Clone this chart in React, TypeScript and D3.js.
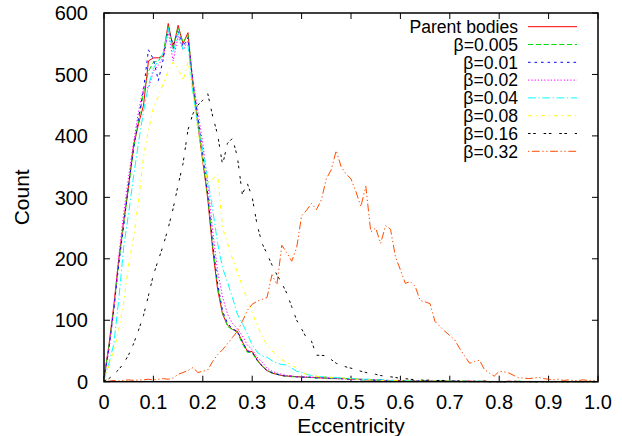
import React from "react";
import * as d3 from "d3";

// bin centres (eccentricity), 0.00 .. 1.00 in steps of 0.01
const BINS: number[] = d3.range(0, 101).map((i) => i / 100);

const X_TICKS = [0, 0.1, 0.2, 0.3, 0.4, 0.5, 0.6, 0.7, 0.8, 0.9, 1.0];
const X_TICK_LABELS = ["0", "0.1", "0.2", "0.3", "0.4", "0.5", "0.6", "0.7", "0.8", "0.9", "1.0"];
const Y_TICKS = [0, 100, 200, 300, 400, 500, 600];

const SERIES_NAMES = ["Parent bodies", "β=0.005", "β=0.01", "β=0.02", "β=0.04", "β=0.08", "β=0.16", "β=0.32"];

const PARENT = [
  5, 60, 125, 200, 262, 320, 385, 420, 450, 522,
  527, 527, 530, 583, 542, 580, 550, 568, 480, 418,
  358, 298, 215, 150, 110, 92, 85, 82, 65, 50,
  49, 36, 25, 18, 14, 12, 10, 9, 9, 8,
  8, 7, 7, 7, 6, 6, 6, 5, 5, 5,
  4, 4, 4, 3, 3, 3, 3, 2, 2, 2,
  2, 2, 2, 1, 1, 2, 1, 1, 1, 1,
  1, 1, 0, 1, 1, 0, 0, 1, 0, 0,
  0, 0, 1, 0, 0, 0, 0, 0, 0, 0,
  0, 0, 0, 0, 0, 0, 0, 0, 0, 0, 0,
];
const B0005 = [
  4, 58, 120, 195, 258, 318, 380, 425, 470, 505,
  520, 522, 535, 578, 545, 577, 552, 565, 485, 425,
  362, 300, 222, 155, 112, 90, 85, 80, 62, 48,
  47, 34, 26, 19, 14, 12, 10, 9, 8, 8,
  8, 7, 7, 6, 6, 6, 5, 5, 5, 5,
  4, 4, 3, 3, 3, 3, 2, 2, 2, 2,
  2, 1, 2, 1, 1, 1, 1, 1, 1, 1,
  1, 0, 1, 1, 0, 0, 1, 0, 0, 0,
  0, 0, 0, 0, 1, 0, 0, 0, 0, 0,
  0, 0, 0, 0, 0, 0, 0, 0, 0, 0, 0,
];
const B001 = [
  5, 55, 118, 192, 255, 322, 380, 430, 475, 540,
  525, 490, 525, 575, 548, 570, 545, 560, 488, 430,
  370, 305, 225, 160, 115, 95, 86, 82, 66, 50,
  48, 35, 26, 18, 15, 12, 10, 9, 9, 8,
  7, 8, 7, 6, 7, 6, 5, 6, 5, 4,
  4, 4, 3, 4, 3, 2, 3, 2, 2, 2,
  1, 2, 1, 1, 2, 1, 1, 0, 1, 1,
  0, 1, 1, 0, 0, 1, 0, 0, 0, 0,
  0, 0, 0, 0, 0, 0, 0, 0, 0, 0,
  0, 0, 0, 0, 0, 0, 0, 0, 0, 0, 0,
];
const B002 = [
  4, 50, 120, 205, 275, 335, 390, 440, 480, 478,
  505, 515, 528, 570, 522, 562, 540, 555, 492, 440,
  388, 322, 245, 180, 138, 110, 95, 86, 75, 60,
  52, 40, 32, 22, 17, 14, 12, 10, 9, 8,
  8, 8, 7, 7, 6, 6, 6, 5, 5, 5,
  4, 4, 4, 3, 3, 3, 2, 2, 2, 2,
  2, 2, 1, 1, 1, 1, 1, 1, 1, 0,
  1, 1, 0, 0, 1, 0, 0, 0, 0, 0,
  0, 0, 0, 0, 0, 0, 0, 0, 0, 0,
  0, 0, 0, 0, 0, 0, 0, 0, 0, 0, 0,
];
const B004 = [
  3, 30, 62, 135, 220, 275, 335, 390, 440, 482,
  510, 522, 535, 575, 535, 568, 540, 548, 470, 418,
  375, 330, 280, 225, 185, 162, 137, 110, 95, 78,
  60, 48, 42, 40, 34, 30, 28, 27, 22, 17,
  15, 12, 10, 9, 8, 8, 7, 7, 6, 6,
  5, 5, 4, 4, 4, 3, 3, 3, 2, 2,
  2, 2, 2, 1, 1, 1, 1, 1, 1, 1,
  1, 1, 0, 1, 0, 0, 1, 0, 0, 0,
  0, 0, 0, 0, 0, 0, 0, 0, 0, 0,
  0, 0, 0, 0, 0, 0, 0, 0, 0, 0, 0,
];
const B008 = [
  2, 25, 50, 85, 130, 190, 235, 295, 365, 410,
  445, 465, 485, 505, 520, 510, 490, 520, 470, 410,
  360, 325, 330, 338, 250, 225, 200, 178, 156, 134,
  112, 92, 74, 60, 50, 42, 36, 31, 27, 22,
  15, 12, 11, 9, 8, 8, 7, 6, 7, 5,
  5, 4, 4, 3, 3, 3, 2, 2, 2, 2,
  2, 2, 1, 1, 2, 1, 1, 1, 1, 1,
  1, 0, 1, 1, 0, 0, 0, 1, 0, 0,
  0, 0, 0, 0, 0, 0, 0, 0, 0, 0,
  0, 0, 0, 0, 0, 0, 0, 0, 0, 0, 0,
];
const B016 = [
  1, 5, 12, 20, 30, 44, 62, 84, 108, 140,
  174, 198, 222, 250, 282, 320, 355, 410, 436, 450,
  458, 469, 432, 402, 353, 388, 396, 366, 305, 323,
  300, 255, 225, 208, 190, 174, 160, 144, 122, 100,
  86, 71, 66, 43, 43, 42, 36, 30, 27, 24,
  22, 20, 17, 15, 13, 12, 10, 9, 8, 7,
  5, 5, 4, 3, 3, 2, 3, 2, 2, 2,
  1, 1, 1, 1, 0, 1, 0, 1, 0, 0,
  0, 0, 0, 1, 0, 0, 0, 0, 0, 0,
  0, 0, 0, 0, 0, 0, 0, 0, 0, 0, 0,
];
const B032 = [
  0, 1, 2, 1, 2, 3, 2, 3, 3, 4,
  3, 4, 5, 4, 6, 12, 15, 18, 23, 15,
  17, 19, 33, 44, 52, 62, 72, 82, 98, 116,
  126, 131, 134, 137, 174, 158, 222, 210, 196, 218,
  270, 279, 290, 280, 296, 330, 345, 376, 350, 338,
  330, 309, 285, 318, 244, 250, 225, 254, 248, 203,
  182, 160, 163, 155, 132, 130, 127, 98, 90, 82,
  75, 68, 54, 42, 30, 33, 35, 20, 14, 9,
  17, 16, 14, 10, 6, 6, 5, 6, 7, 5,
  4, 3, 4, 2, 3, 2, 2, 3, 2, 2, 1,
];

const SERIES_VALUES = [PARENT, B0005, B001, B002, B004, B008, B016, B032];
const COLORS = ["#ff0000", "#00e000", "#0000ff", "#ff00ff", "#00ffff", "#ffff00", "#000000", "#ff4d00"];
const DL = 1.3;
const DASHES: (number[] | null)[] = [
  null,
  [4, 2],
  [2, 3],
  [1, 1.5],
  [6, 2, 1, 2],
  [3, 3, 1, 3],
  [2, 2, 2, 6],
  [1, 2, 6, 2, 1, 2],
];

const W = 622;
const H = 436;
const LEFT = 104;
const RIGHT = 598;
const TOP = 13;
const BOTTOM = 381.7;
const FONT = "'Liberation Sans', Arial, Helvetica, sans-serif";
const FS_TICK = 20;
const FS_TITLE = 21;
const FS_LEGEND = 17.6;

export default function App() {
  const x = d3.scaleLinear().domain([0, 1]).range([LEFT, RIGHT]);
  const y = d3.scaleLinear().domain([0, 600]).range([BOTTOM, TOP]);
  const line = d3
    .line<number>()
    .x((_d, i) => x(BINS[i]))
    .y((d) => y(d));

  const tickLen = 6;
  const legendX = 518;
  const legendY0 = 26.7;
  const legendDy = 17.8;

  return (
    <svg
      width={W}
      height={H}
      viewBox={`0 0 ${W} ${H}`}
      style={{ position: "absolute", left: 0, top: 0, background: "#fff" }}
      fontFamily={FONT}
    >
      <rect x={0} y={0} width={W} height={H} fill="#fff" />
      {/* ticks */}
      {X_TICKS.map((t) => (
        <g key={"xt" + t} stroke="#000" strokeWidth={1}>
          <line x1={x(t)} x2={x(t)} y1={BOTTOM} y2={BOTTOM - tickLen} />
          <line x1={x(t)} x2={x(t)} y1={TOP} y2={TOP + tickLen} />
        </g>
      ))}
      {Y_TICKS.map((t) => (
        <g key={"yt" + t} stroke="#000" strokeWidth={1}>
          <line x1={LEFT} x2={LEFT + tickLen} y1={y(t)} y2={y(t)} />
          <line x1={RIGHT} x2={RIGHT - tickLen} y1={y(t)} y2={y(t)} />
        </g>
      ))}
      {/* tick labels */}
      {X_TICK_LABELS.map((lab, i) => (
        <text key={"xl" + i} x={x(X_TICKS[i])} y={408.5} fontSize={FS_TICK} textAnchor="middle" fill="#000">
          {lab}
        </text>
      ))}
      {Y_TICKS.map((t) => (
        <text key={"yl" + t} x={88} y={y(t)} dy="0.36em" fontSize={FS_TICK} textAnchor="end" fill="#000">
          {t}
        </text>
      ))}
      {/* axis titles */}
      <text x={(LEFT + RIGHT) / 2} y={433} fontSize={FS_TITLE} textAnchor="middle" fill="#000">
        Eccentricity
      </text>
      <text
        transform={`translate(29,${(TOP + BOTTOM) / 2}) rotate(-90)`}
        fontSize={FS_TITLE}
        textAnchor="middle"
        fill="#000"
      >
        Count
      </text>
      {/* series */}
      <g fill="none">
        {SERIES_VALUES.map((vals, k) => (
          <path
            key={"s" + k}
            d={line(vals) || ""}
            stroke={COLORS[k]}
            strokeWidth={1}
            strokeDasharray={DASHES[k] ? DASHES[k]!.map((v) => v * DL).join(",") : undefined}
          />
        ))}
      </g>
      {/* legend */}
      {SERIES_NAMES.map((name, k) => {
        const ly = legendY0 + k * legendDy;
        return (
          <g key={"lg" + k}>
            <text x={legendX} y={ly} dy="0.36em" fontSize={FS_LEGEND} textAnchor="end" fill="#000">
              {name}
            </text>
            <line
              x1={528}
              x2={577}
              y1={ly}
              y2={ly}
              stroke={COLORS[k]}
              strokeWidth={1}
              strokeDasharray={DASHES[k] ? DASHES[k]!.map((v) => v * DL).join(",") : undefined}
            />
          </g>
        );
      })}
      {/* frame */}
      <rect x={LEFT} y={TOP} width={RIGHT - LEFT} height={BOTTOM - TOP} fill="none" stroke="#000" strokeWidth={1.5} />
    </svg>
  );
}
